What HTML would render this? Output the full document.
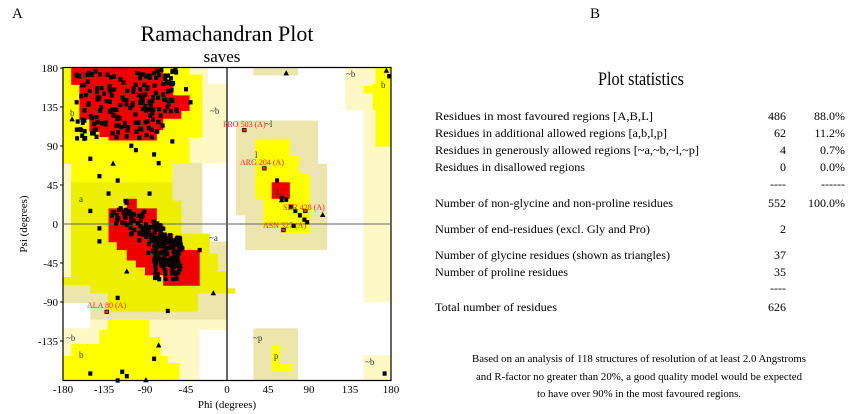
<!DOCTYPE html>
<html><head><meta charset="utf-8"><style>
body{margin:0;background:#fff;width:862px;height:414px;overflow:hidden;font-family:"Liberation Serif",serif;}
svg{position:absolute;left:0;top:0}
</style></head><body>
<svg width="862" height="414" viewBox="0 0 862 414" font-family="Liberation Serif, serif">
<text x="12" y="18" font-size="15">A</text>
<text x="227" y="41" font-size="22" text-anchor="middle">Ramachandran Plot</text>
<text x="222" y="62" font-size="17" text-anchor="middle">saves</text>
<text x="590" y="18" font-size="15">B</text>
<g transform="translate(227,224) scale(0.9111,-0.8694)">
<!-- pale -->
<g fill="#fdf8c4">
<rect x="-180" y="-180" width="180" height="360"/>
<rect x="130" y="131" width="50" height="49"/>
<rect x="150" y="-90" width="30" height="270"/>
<rect x="150" y="-180" width="30" height="29"/>
</g>
<!-- beige middle/left -->
<g fill="#ece6ad">
<polygon points="-171,48 -60,48 -60,70 -27,70 -27,-20 0,-20 0,-110 -150,-110 -150,-91 -180,-91 -180,-61 -171,-61"/>
<polygon points="10,119 100,119 100,69 110,69 110,-30 20,-30 20,10 10,10"/>
<rect x="29" y="-180" width="49" height="60"/>
<rect x="29" y="171" width="49" height="9"/>
</g>
<g fill="#fff">
<rect x="-21" y="161" width="21" height="19"/>
<rect x="-27" y="-20" width="27" height="90"/>
<rect x="-30" y="-180" width="30" height="58"/>
<rect x="-180" y="-120" width="30" height="29"/>
</g>
<!-- yellow -->
<g fill="#ffff00">
<polygon points="-180,180 -41,180 -41,172 -27,172 -27,100 -41,100 -41,70 -60,70 -60,48 -171,48 -171,69 -180,69"/>
<polygon points="-171,-138 -140,-138 -140,-122 -131,-122 -131,-110 -105,-110 -105,-110 -85,-110 -85,-130 -73,-130 -73,-152 -65,-152 -65,-160 -52,-160 -52,-180 -180,-180 -180,-152 -171,-152"/>
<polygon points="31,98 69,98 69,79 79,79 79,59 91,59 91,-11 60,-11 60,-3 40,-3 40,21 40,29 31,29 31,69 31,79"/>
<polygon points="49,-140 58,-140 58,-160 71,-160 71,-170 49,-170"/>
<rect x="163" y="89" width="17" height="91"/>
<rect x="150" y="150" width="10" height="9"/>
<rect x="160" y="131" width="9" height="30"/>
</g>
<g fill="#eeee00">
<polygon points="-171,48 -60,48 -60,27 -50,27 -50,-11 -19,-11 -19,-34 -10,-34 -10,-54 0,-54 0,-80 -32,-80 -32,-101 -131,-101 -131,-80 -150,-80 -150,-70 -180,-70 -180,-61 -171,-61"/>
<rect x="0" y="-80" width="9" height="6"/>
</g>
<!-- red -->
<g fill="#ee0000">
<polygon points="-171,180 -70,180 -70,162 -59,162 -59,148 -41,148 -41,130 -50,130 -50,121 -70,121 -70,108 -77,108 -77,96 -130,96 -130,100 -140,100 -140,106 -151,106 -151,120 -162,120 -162,160 -171,160"/>
<polygon points="-110,29 -99,29 -99,18 -77,18 -77,0 -70,0 -70,-11 -59,-11 -59,-21 -50,-21 -50,-30 -30,-30 -30,-71 -70,-71 -70,-59 -90,-59 -90,-50 -100,-50 -100,-42 -110,-42 -110,-30 -121,-30 -121,-21 -130,-21 -130,18 -110,18"/>
<rect x="49" y="29" width="20" height="19"/>
</g>
<g stroke="#000" fill="none">
<rect x="-180" y="-180" width="360" height="360" vector-effect="non-scaling-stroke" stroke-width="1.2"/>
<line x1="0" y1="-180" x2="0" y2="180" vector-effect="non-scaling-stroke" stroke-width="1.2"/>
<line x1="-180" y1="0" x2="180" y2="0" vector-effect="non-scaling-stroke" stroke="#666"/>
</g>
<g id="dots" fill="#000"></g>
<g fill="#000">
<polygon points="-170,124 -167,118 -173,118"/><polygon points="-110,-51 -107,-57 -113,-57"/>
<polygon points="-75,-136 -72,-142 -78,-142"/><polygon points="-15,-76 -12,-82 -18,-82"/>
<polygon points="65,177 68,171 62,171"/><polygon points="105,14 108,8 102,8"/>
<polygon points="-125,73 -122,67 -128,67"/><polygon points="175,180 178,174 172,174"/>
<polygon points="60,31 63,25 57,25"/><polygon points="-89,-176 -86,-182 -92,-182"/>
</g>
<g fill="#ff2020" stroke="#000" stroke-width="0.8">
<rect x="17" y="106" width="4" height="4"/><rect x="39" y="62" width="4" height="4"/>
<rect x="84" y="13" width="4" height="4"/><rect x="60" y="-9" width="4" height="4"/>
<rect x="-134" y="-103" width="4" height="4"/>
</g>
</g>
<g font-size="8" fill="#ff2020">
<text x="223" y="127">PRO 503 (A)</text>
<text x="240" y="165">ARG 204 (A)</text>
<text x="283" y="210">SER 428 (A)</text>
<text x="263" y="228">ASN 327 (A)</text>
<text x="87" y="308">ALA 80 (A)</text>
</g>
<g font-size="9" fill="#333">
<text x="80" y="79">B</text><text x="70" y="116">b</text><text x="79" y="202">a</text>
<text x="210" y="114">~b</text><text x="265" y="127">~l</text><text x="255" y="158">l</text><text x="276" y="195">L</text>
<text x="209" y="241">~a</text><text x="66" y="341">~b</text><text x="79" y="358">b</text>
<text x="253" y="341">~p</text><text x="274" y="359">p</text><text x="346" y="77">~b</text><text x="381" y="88">b</text><text x="365" y="365">~b</text>
</g>
<g font-size="11" text-anchor="end">
<text x="58" y="72">180</text><text x="58" y="111">135</text><text x="58" y="150">90</text><text x="58" y="189">45</text>
<text x="58" y="228">0</text><text x="58" y="267">-45</text><text x="58" y="306">-90</text><text x="58" y="345">-135</text>
</g>
<g stroke="#000"><line x1="60" y1="68" x2="63" y2="68"/><line x1="60" y1="107" x2="63" y2="107"/><line x1="60" y1="146" x2="63" y2="146"/><line x1="60" y1="185" x2="63" y2="185"/><line x1="60" y1="263" x2="63" y2="263"/><line x1="60" y1="302" x2="63" y2="302"/><line x1="60" y1="341" x2="63" y2="341"/></g>
<g font-size="11" text-anchor="middle">
<text x="63" y="393">-180</text><text x="104" y="393">-135</text><text x="145" y="393">-90</text><text x="186" y="393">-45</text>
<text x="227" y="393">0</text><text x="268" y="393">45</text><text x="309" y="393">90</text><text x="350" y="393">135</text><text x="391" y="393">180</text>
<text x="227" y="408">Phi (degrees)</text>
</g>
<text font-size="11" text-anchor="middle" transform="translate(27,224) rotate(-90)">Psi (degrees)</text>

<text x="641" y="85" font-size="19" text-anchor="middle" textLength="86" lengthAdjust="spacingAndGlyphs">Plot statistics</text>
<g font-size="12">
<text x="435" y="120" textLength="218" lengthAdjust="spacingAndGlyphs">Residues in most favoured regions  [A,B,L]</text>
<text x="435" y="137" textLength="232" lengthAdjust="spacingAndGlyphs">Residues in additional allowed regions  [a,b,l,p]</text>
<text x="435" y="154" textLength="264" lengthAdjust="spacingAndGlyphs">Residues in generously allowed regions  [~a,~b,~l,~p]</text>
<text x="435" y="171" textLength="150" lengthAdjust="spacingAndGlyphs">Residues in disallowed regions</text>
<text x="435" y="207" textLength="238" lengthAdjust="spacingAndGlyphs">Number of non-glycine and non-proline residues</text>
<text x="435" y="233" textLength="215" lengthAdjust="spacingAndGlyphs">Number of end-residues (excl. Gly and Pro)</text>
<text x="435" y="259" textLength="235" lengthAdjust="spacingAndGlyphs">Number of glycine residues (shown as triangles)</text>
<text x="435" y="276" textLength="133" lengthAdjust="spacingAndGlyphs">Number of proline residues</text>
<text x="435" y="311" textLength="122" lengthAdjust="spacingAndGlyphs">Total number of residues</text>
</g>
<g font-size="12" text-anchor="end">
<text x="786" y="120">486</text><text x="786" y="137">62</text><text x="786" y="154">4</text><text x="786" y="171">0</text>
<text x="786" y="188">----</text><text x="786" y="207">552</text><text x="786" y="233">2</text><text x="786" y="259">37</text><text x="786" y="276">35</text><text x="786" y="292">----</text><text x="786" y="311">626</text>
<text x="845" y="120">88.0%</text><text x="845" y="137">11.2%</text><text x="845" y="154">0.7%</text><text x="845" y="171">0.0%</text>
<text x="845" y="188">------</text><text x="845" y="207">100.0%</text>
</g>
<g font-size="10.5" text-anchor="middle">
<text x="639" y="362" textLength="334" lengthAdjust="spacingAndGlyphs">Based on an analysis of 118 structures of resolution of at least 2.0 Angstroms</text>
<text x="639" y="380" textLength="326" lengthAdjust="spacingAndGlyphs">and R-factor no greater than 20%, a good quality model would be expected</text>
<text x="639" y="397" textLength="204" lengthAdjust="spacingAndGlyphs">to have over 90% in the most favoured regions.</text>
</g>
</svg>
<script>
(function(){
var s=7,g=document.getElementById('dots');
function r(){s=(s*16807)%2147483647;return s/2147483647;}
function add(x,y){var e=document.createElementNS('http://www.w3.org/2000/svg','rect');e.setAttribute('x',x-2.2);e.setAttribute('y',y-2.5);e.setAttribute('width',4.4);e.setAttribute('height',5);g.appendChild(e);}
var i;
for(i=0;i<200;i++){var x=-165+r()*110,y=98+r()*80;if(x>-70&&y<125)continue;add(x,y);}
for(i=0;i<120;i++){var t=r();add(-115+t*55+(r()-0.5)*30,20-t*55+(r()-0.5)*25);}
for(i=0;i<110;i++){add(-80+r()*30,-15-r()*50);}
var extra=[[-165,140],[-160,108],[-150,75],[-140,55],[-120,50],[-105,90],[-100,85],[-80,80],[-75,70],[-60,95],[-55,130],[-45,155],[-40,140],[-140,-20],[-140,-5],[-150,15],[-130,35],[-110,25],[-85,35],[-30,-30],[-120,-85],[-65,-100],[-80,-155],[-110,-175],[-120,-180],[-150,-172],[55,50],[60,30],[75,15],[80,10],[85,5],[88,2],[70,20],[65,28],[73,-2],[173,-172],[178,170],[-60,175],[-115,-170]];
extra.forEach(function(p){add(p[0],p[1]);});
})();
</script>
</body></html>
